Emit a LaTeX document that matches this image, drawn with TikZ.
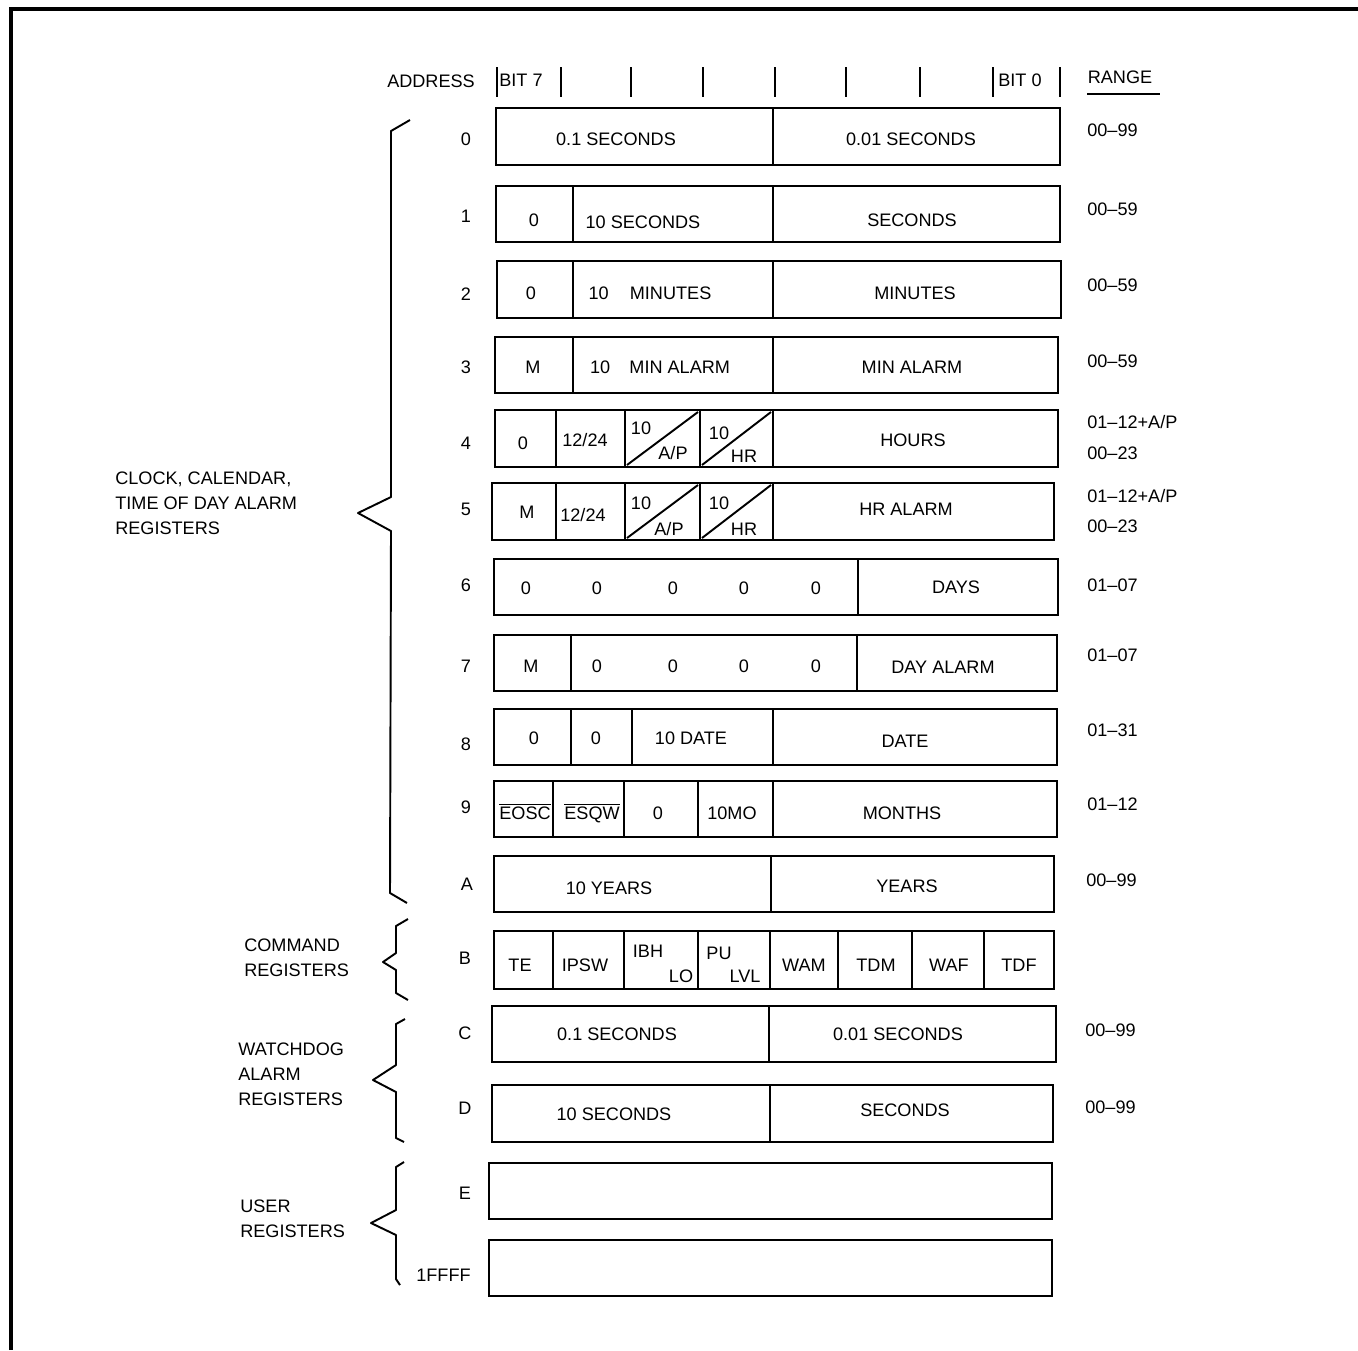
\documentclass[tikz,border=0pt]{standalone}
\usepackage{fontspec}
\setmainfont{Liberation Sans}
\usepackage{tikz}
\usetikzlibrary{positioning, calc}

\newcommand{\regfont}{\fontsize{10.3}{14.4}\selectfont}

\tikzset{
  reg/.style={line width=1.1pt},
  lbl/.style={font=\regfont, inner sep=0pt, text height=7.4pt, text depth=0pt},
  rng/.style={lbl, anchor=west},
  side/.style={font=\regfont, inner sep=0pt, anchor=north west, align=left},
  brace/.style={line width=1.1pt, line join=round},
}

\begin{document}
\begin{tikzpicture}[x=0.02cm, y=-0.02cm]
\useasboundingbox (0,0) rectangle (1358,1350);
\draw[line width=1.8pt] (11,1350) -- (11,9) -- (1358,9);

% header
\node[lbl] (addr) at (431,81) {ADDRESS};
\foreach \x in {497,561,631,703,846,920,993,1060}
  \draw[line width=1pt] (\x,67) -- (\x,97);
\draw[line width=1.6pt] (775,67) -- (775,97);
\node[lbl] (bit7) at (521,80) {BIT 7};
\node[lbl] (bit0) at (1020,80) {BIT 0};
\node[lbl] (range) at (1120,77) {RANGE};
\draw[line width=1pt] (1087,94) -- (1160,94);

% register outlines and bit dividers
\foreach \l/\t/\r/\b/\d in {496/108/1060/165/{773},
    496/186/1060/242/{573,773}, 497/261/1061/318/{573,773},
    495/337/1058/393/{573,773}, 495/410/1058/467/{556,625,700,773},
    492/483/1054/540/{556,625,700,773}, 494/559/1058/615/{858},
    494/635/1057/691/{571,857}, 494/709/1057/765/{571,632,773},
    494/781/1057/837/{553,624,698,773}, 494/856/1054/912/{771},
    494/931/1054/989/{553,624,698,770,838,912,984},
    492/1006/1056/1062/{769}, 492/1085/1053/1142/{770}}
{
  \draw[reg] (\l,\t) rectangle (\r,\b);
  \foreach \x in \d
    \draw[reg] (\x,\t) -- (\x,\b);
}
\draw[reg] (489,1163) rectangle (1052,1219);
\draw[reg] (489,1240) rectangle (1052,1296);

% split bits (10 / A/P, 10 / HR)
\draw[reg] (627,465) -- (698,412);
\draw[reg] (702,465) -- (771,412);
\draw[reg] (627,538) -- (698,485);
\draw[reg] (702,538) -- (771,485);

% addresses
\node[lbl] (a0) at (466,139) {0};
\node[lbl] (a1) at (466,216) {1};
\node[lbl] (a2) at (466,294) {2};
\node[lbl] (a3) at (466,367) {3};
\node[lbl] (a4) at (466,443) {4};
\node[lbl] (a5) at (466,509) {5};
\node[lbl] (a6) at (466,585) {6};
\node[lbl] (a7) at (466,666) {7};
\node[lbl] (a8) at (466,744) {8};
\node[lbl] (a9) at (466,807) {9};
\node[lbl] (aA) at (467,884) {A};
\node[lbl] (aB) at (465,958) {B};
\node[lbl] (aC) at (465,1033) {C};
\node[lbl] (aD) at (465,1108) {D};
\node[lbl] (aE) at (465,1193) {E};
\node[lbl, anchor=east] (aF) at (471,1275) {1FFFF};

% register 0-3
\node[lbl] (s01) at (616,139) {0.1 SECONDS};
\node[lbl] (s001) at (911,139) {0.01 SECONDS};
\node[lbl] (z1) at (534,220) {0};
\node[lbl] (s10) at (643,222) {10 SECONDS};
\node[lbl] (s1) at (912,220) {SECONDS};
\node[lbl] (z2) at (531,293) {0};
\node[lbl] (m10) at (650,293) {10\hspace{12pt}MINUTES};
\node[lbl] (m1) at (915,293) {MINUTES};
\node[lbl] (mm3) at (533,367) {M};
\node[lbl] (ma10) at (660,367) {10\hspace{11pt}MIN ALARM};
\node[lbl] (ma1) at (912,367) {MIN ALARM};

% register 4-5
\node[lbl] (z4) at (523,443) {0};
\node[lbl] (c4) at (585,440) {12/24};
\node[lbl] (t4a) at (641,428) {10};
\node[lbl] (p4) at (673,453) {A/P};
\node[lbl] (t4b) at (719,433) {10};
\node[lbl] (h4) at (744,456) {HR};
\node[lbl] (hrs) at (913,440) {HOURS};
\node[lbl] (mm5) at (527,512) {M};
\node[lbl] (c5) at (583,515) {12/24};
\node[lbl] (t5a) at (641,503) {10};
\node[lbl] (p5) at (669,529) {A/P};
\node[lbl] (t5b) at (719,503) {10};
\node[lbl] (h5) at (744,529) {HR};
\node[lbl] (hra) at (906,509) {HR ALARM};

% register 6-7
\foreach \x [count=\i] in {526,597,673,744,816}
  \node[lbl] (z6\i) at (\x,588) {0};
\node[lbl] (days) at (956,587) {DAYS};
\node[lbl] (mm7) at (531,666) {M};
\foreach \x [count=\i] in {597,673,744,816}
  \node[lbl] (z7\i) at (\x,666) {0};
\node[lbl] (dya) at (943,667) {DAY ALARM};

% register 8-A
\node[lbl] (z8a) at (534,738) {0};
\node[lbl] (z8b) at (596,738) {0};
\node[lbl] (d10) at (691,738) {10 DATE};
\node[lbl] (date) at (905,741) {DATE};
\node[lbl] (eosc) at (525,813) {$\overline{\mbox{EOSC}}$};
\node[lbl] (esqw) at (592,813) {$\overline{\mbox{ESQW}}$};
\node[lbl] (z9) at (658,813) {0};
\node[lbl] (mo10) at (732,813) {10MO};
\node[lbl] (mon) at (902,813) {MONTHS};
\node[lbl] (y10) at (609,888) {10 YEARS};
\node[lbl] (yrs) at (907,886) {YEARS};

% command register B
\node[lbl] (te) at (520,965) {TE};
\node[lbl] (ipsw) at (585,965) {IPSW};
\node[lbl] (ibh) at (648,951) {IBH};
\node[lbl] (lo) at (681,976) {LO};
\node[lbl] (pu) at (719,953) {PU};
\node[lbl] (lvl) at (745,976) {LVL};
\node[lbl] (wam) at (804,965) {WAM};
\node[lbl] (tdm) at (876,965) {TDM};
\node[lbl] (waf) at (949,965) {WAF};
\node[lbl] (tdf) at (1019,965) {TDF};

% watchdog C-D
\node[lbl] (w01) at (617,1034) {0.1 SECONDS};
\node[lbl] (w001) at (898,1034) {0.01 SECONDS};
\node[lbl] (w10) at (614,1114) {10 SECONDS};
\node[lbl] (w1) at (905,1110) {SECONDS};

% ranges
\node[rng] (g0) at (1087,130) {00--99};
\node[rng] (g1) at (1087,209) {00--59};
\node[rng] (g2) at (1087,285) {00--59};
\node[rng] (g3) at (1087,361) {00--59};
\node[rng] (g4a) at (1087,422) {01--12+A/P};
\node[rng] (g4b) at (1087,453) {00--23};
\node[rng] (g5a) at (1087,496) {01--12+A/P};
\node[rng] (g5b) at (1087,526) {00--23};
\node[rng] (g6) at (1087,585) {01--07};
\node[rng] (g7) at (1087,655) {01--07};
\node[rng] (g8) at (1087,730) {01--31};
\node[rng] (g9) at (1087,804) {01--12};
\node[rng] (gA) at (1086,880) {00--99};
\node[rng] (gC) at (1085,1030) {00--99};
\node[rng] (gD) at (1085,1107) {00--99};

% braces and group names
\draw[brace] (410,120) -- (391,131) -- (391,497) -- (358,513) -- (391,531) -- (390,893) -- (407,903);
\draw[brace] (408,919) -- (396,926) -- (396,953) -- (383,962) -- (396,970) -- (396,993) -- (408,1000);
\draw[brace] (405,1019) -- (396,1024) -- (396,1065) -- (373,1080) -- (396,1092) -- (396,1138) -- (404,1142);
\draw[brace] (404,1162) -- (396,1167) -- (396,1210) -- (371,1223) -- (396,1235) -- (396,1279) -- (400,1285);

\node[side] (clk) at (115,471) {CLOCK, CALENDAR,\\TIME OF DAY ALARM\\REGISTERS};
\node[side] (cmd) at (244,938) {COMMAND\\REGISTERS};
\node[side] (wdg) at (238,1042) {WATCHDOG\\ALARM\\REGISTERS};
\node[side] (usr) at (240,1199) {USER\\REGISTERS};
\end{tikzpicture}
\end{document}
